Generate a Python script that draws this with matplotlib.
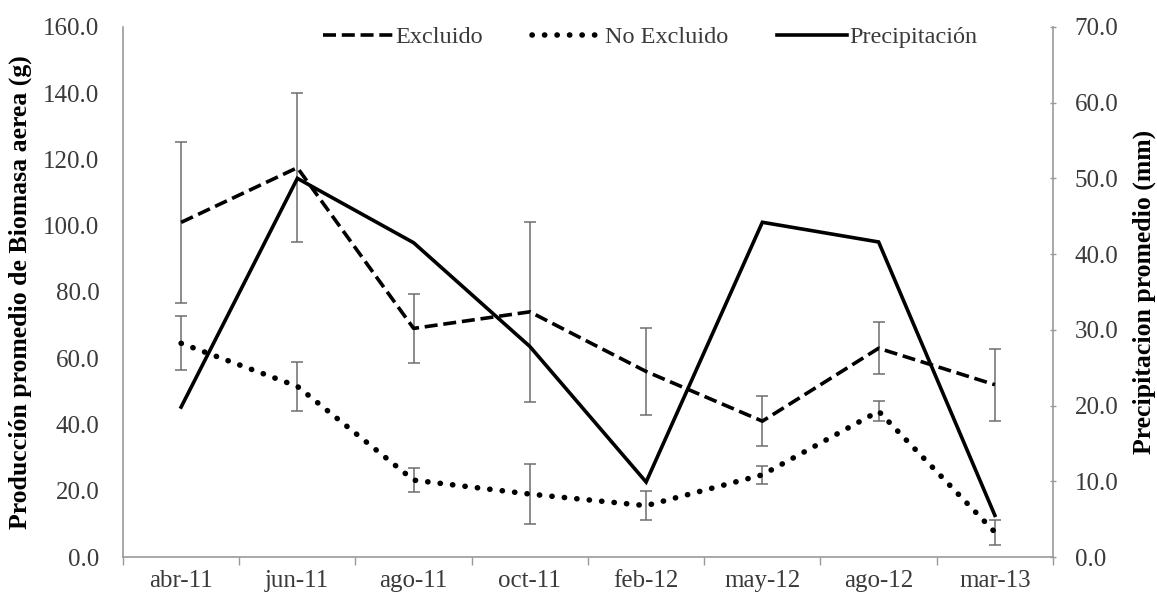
import numpy as np
import matplotlib
matplotlib.use("Agg")
import matplotlib.pyplot as plt
from matplotlib.lines import Line2D

matplotlib.rcParams["font.family"] = ["Liberation Serif", "DejaVu Serif"]

fechas = ["abr-11", "jun-11", "ago-11", "oct-11", "feb-12", "may-12", "ago-12", "mar-13"]

excluido = [101.0, 117.5, 69.0, 74.0, 56.0, 41.0, 63.0, 52.0]
excluido_err = [24.3, 22.5, 10.4, 27.2, 13.0, 7.5, 7.8, 10.8]

no_excluido = [64.5, 51.5, 23.2, 19.0, 15.5, 24.8, 44.0, 7.5]
no_excluido_err = [8.2, 7.3, 3.6, 9.0, 4.4, 2.7, 3.0, 3.8]

precipitacion = [19.8, 50.0, 41.5, 27.8, 9.9, 44.2, 41.6, 5.5]

GRIS = "#9a9a9a"
TEXTO = "#3a3a3a"

DASH = (0, (3.6, 1.6))
DOT = (0, (0.05, 2.2))

fig = plt.figure(figsize=(11.57, 5.99), dpi=100)
ax = fig.add_axes([0.1063, 0.0701, 0.8038, 0.885])
ax2 = ax.twinx()

x = np.arange(len(fechas))

# error bars first, lines on top
ax.errorbar(x, excluido, yerr=excluido_err, fmt="none", ecolor="#6e6e6e",
            elinewidth=1.1, capsize=4, capthick=1.1, zorder=2)
ax.errorbar(x, no_excluido, yerr=no_excluido_err, fmt="none", ecolor="#6e6e6e",
            elinewidth=1.1, capsize=4, capthick=1.1, zorder=2)

ax.plot(x, excluido, color="black", lw=2.6, linestyle=DASH,
        dash_capstyle="butt", zorder=3)
ax.plot(x, no_excluido, color="black", lw=4.0, linestyle=DOT,
        dash_capstyle="round", zorder=3)
ax2.plot(x, precipitacion, color="black", lw=2.6, solid_joinstyle="miter", zorder=3)

ax.set_xlim(-0.5, len(fechas) - 0.5)
ax.set_ylim(0, 160)
ax2.set_ylim(0, 70)

ax.set_yticks(np.arange(0, 161, 20))
ax.set_yticklabels([f"{v:.1f}" for v in np.arange(0, 161, 20)])
ax2.set_yticks(np.arange(0, 71, 10))
ax2.set_yticklabels([f"{v:.1f}" for v in np.arange(0, 71, 10)])

# category labels at centers, tick marks at the boundaries
ax.set_xticks(np.arange(-0.5, len(fechas), 1.0))
ax.set_xticklabels([])
ax.set_xticks(x, minor=True)
ax.set_xticklabels(fechas, minor=True)
ax.tick_params(axis="x", which="major", length=6, width=1, color=GRIS, direction="out")
ax.tick_params(axis="x", which="minor", length=0, pad=9, labelsize=18, labelcolor=TEXTO)
ax.tick_params(axis="y", length=0, pad=17, labelsize=18, labelcolor=TEXTO)
ax2.tick_params(axis="y", length=5, width=1, color=GRIS, direction="inout", pad=13,
                labelsize=18, labelcolor=TEXTO)

for a in (ax, ax2):
    a.spines["top"].set_visible(False)
    for s in ("left", "right", "bottom"):
        a.spines[s].set_color(GRIS)
        a.spines[s].set_linewidth(1.2)
ax.spines["right"].set_visible(False)
ax2.spines["left"].set_visible(False)
ax2.spines["bottom"].set_visible(False)

ax.set_ylabel("Producción promedio de Biomasa aerea (g)", fontsize=18.5,
              fontweight="bold", labelpad=8)
ax2.set_ylabel("Precipitacion promedio (mm)", fontsize=18.5, fontweight="bold",
               labelpad=10)

handles = [
    Line2D([], [], color="black", lw=2.6, linestyle=DASH),
    Line2D([], [], color="black", lw=4.0, linestyle=DOT, dash_capstyle="round"),
    Line2D([], [], color="black", lw=2.6),
]
fig.legend(handles, ["Excluido", "No Excluido", "Precipitación"], loc="center",
           bbox_to_anchor=(0.562, 0.938), ncol=3, frameon=False, fontsize=17.5,
           handlelength=2.9, handletextpad=0.1, columnspacing=2.0,
           labelcolor=TEXTO)

fig.savefig("out.png", dpi=100, facecolor="white")
